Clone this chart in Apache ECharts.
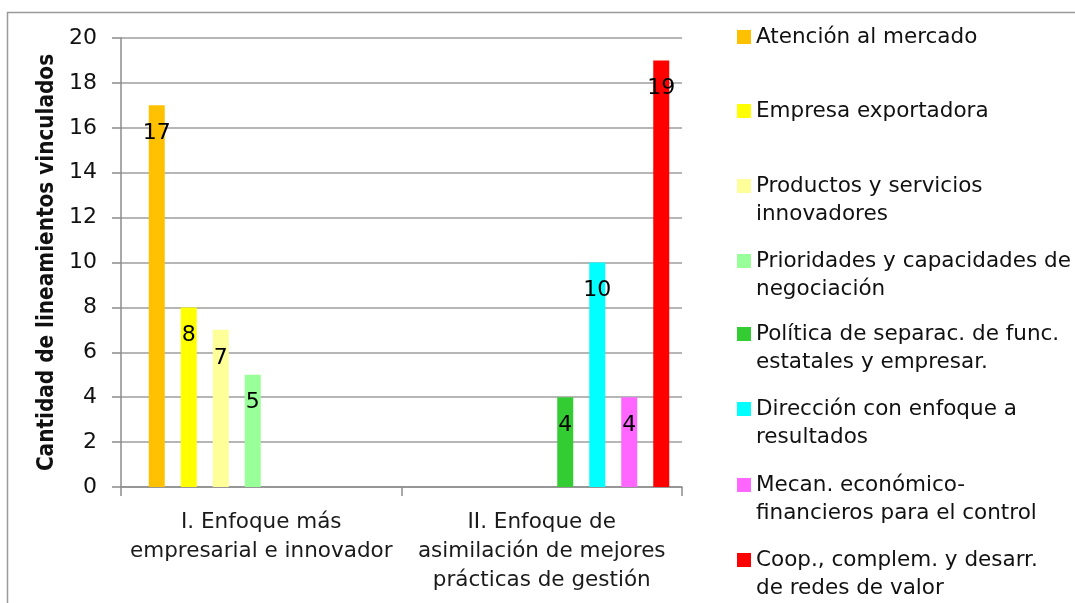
<!DOCTYPE html>
<html>
<head>
<meta charset="utf-8">
<script src="https://cdn.jsdelivr.net/npm/echarts@6/dist/echarts.min.js"></script>
<style>
html,body{margin:0;padding:0;background:#fff;}
#chart{width:1075px;height:603px;}
</style>
</head>
<body>
<div id="chart"></div>
<script>
// ---- data ----
const categories = [
  'I. Enfoque más\nempresarial e innovador',
  'II. Enfoque de\nasimilación de mejores\nprácticas de gestión'
];
const seriesNames = [
  'Atención al mercado',
  'Empresa exportadora',
  'Productos y servicios\ninnovadores',
  'Prioridades y capacidades de\nnegociación',
  'Política de separac. de func.\nestatales y empresar.',
  'Dirección con enfoque a\nresultados',
  'Mecan. económico-\nfinancieros para el control',
  'Coop., complem. y desarr.\nde redes de valor'
];
const atencion     = [17, null];
const empresa      = [8, null];
const productos    = [7, null];
const prioridades  = [5, null];
const politica     = [null, 4];
const direccion    = [null, 10];
const mecan        = [null, 4];
const coop         = [null, 19];
const seriesValues = [atencion, empresa, productos, prioridades, politica, direccion, mecan, coop];
const yAxisName = 'Cantidad de lineamientos vinculados';
const yMin = 0, yMax = 20, yInterval = 2;

// ---- styles ----
const colors = ['#FFC000', '#FFFF00', '#FFFF99', '#99FF99', '#33CC33', '#00FFFF', '#FF66FF', '#FF0000'];
const legendFirstLineY = [37, 111, 186, 261, 334, 409, 485, 560];
const FONT = '"DejaVu Sans", Verdana, sans-serif';
const LH = 28;

const chart = echarts.init(document.getElementById('chart'), null, {renderer: 'canvas'});

const gridTop = 38, gridHeight = 449, gridLeft = 121, gridWidth = 561, barShift = 7.5;

const series = seriesNames.map((name, i) => ({
  name: name,
  type: 'bar',
  xAxisIndex: 1,
  yAxisIndex: 1,
  data: seriesValues[i],
  barWidth: 16,
  barGap: '100%',
  itemStyle: {color: colors[i]},
  label: {
    show: true,
    position: 'insideTop',
    distance: 17,
    color: '#000',
    fontFamily: FONT,
    fontSize: 22
  }
}));

const legends = seriesNames.map((name, i) => {
  const twoLine = name.indexOf('\n') >= 0;
  return {
    data: [name],
    left: 737,
    top: twoLine ? legendFirstLineY[i] - 1.5 * LH : legendFirstLineY[i] - LH / 2,
    orient: 'vertical',
    padding: 0,
    itemWidth: 14,
    itemHeight: 14,
    itemGap: 0,
    icon: 'rect',
    selectedMode: false,
    formatter: twoLine ? (n => ' \n' + n) : (n => n),
    textStyle: {
      fontFamily: FONT,
      fontSize: 21.5,
      color: '#111',
      lineHeight: LH
    }
  };
});

const option = {
  animation: false,
  backgroundColor: '#fff',
  textStyle: {fontFamily: FONT},
  graphic: [{
    type: 'polyline',
    silent: true,
    shape: {points: [[7.5, 700], [7.5, 12.5], [1200, 12.5]]},
    style: {fill: null, stroke: '#9a9a9a', lineWidth: 1.5},
    z: -10
  }],
  legend: legends,
  grid: [
    {left: gridLeft, top: gridTop, width: gridWidth, height: gridHeight, containLabel: false},
    {left: gridLeft + barShift, top: gridTop, width: gridWidth, height: gridHeight, containLabel: false}
  ],
  xAxis: [
    {
      type: 'category',
      gridIndex: 0,
      data: categories,
      axisLine: {show: true, lineStyle: {color: '#8c8c8c', width: 1.5}},
      axisTick: {show: true, length: 9, lineStyle: {color: '#8c8c8c', width: 1.5}},
      axisLabel: {
        margin: 21,
        color: '#1a1a1a',
        fontFamily: FONT,
        fontSize: 21.5,
        lineHeight: 29,
        interval: 0
      }
    },
    {
      type: 'category',
      gridIndex: 1,
      data: categories,
      show: false
    }
  ],
  yAxis: [
    {
      type: 'value',
      gridIndex: 0,
      min: yMin, max: yMax, interval: yInterval,
      name: yAxisName,
      nameLocation: 'middle',
      nameGap: 58,
      nameRotate: 90,
      nameTextStyle: {
        fontFamily: '"DejaVu Sans Condensed", "DejaVu Sans", sans-serif',
        fontWeight: 'bold',
        fontSize: 22.3,
        color: '#111'
      },
      axisLine: {show: true, lineStyle: {color: '#8c8c8c', width: 1.5}},
      axisTick: {show: true, length: 9, lineStyle: {color: '#8c8c8c', width: 1.5}},
      axisLabel: {
        margin: 24,
        color: '#111',
        fontFamily: FONT,
        fontSize: 22
      },
      splitLine: {show: true, lineStyle: {color: '#9e9e9e', width: 1.5}}
    },
    {
      type: 'value',
      gridIndex: 1,
      min: yMin, max: yMax, interval: yInterval,
      show: false,
      splitLine: {show: false}
    }
  ],
  series: series
};

chart.setOption(option);
</script>
</body>
</html>
